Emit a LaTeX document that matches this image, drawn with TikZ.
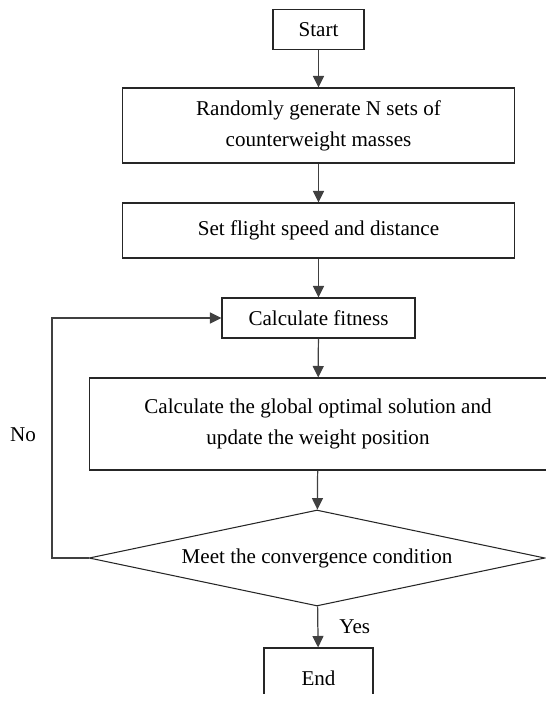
\documentclass[tikz,border=0pt]{standalone}
\usepackage{fontspec}
\setmainfont{Liberation Serif}
\usetikzlibrary{arrows.meta, shapes.geometric}

\tikzset{
  box/.style={draw=black!85, line width=0.6pt, inner sep=0pt, align=center, font=\fontsize{12}{17.5}\selectfont},
  flow/.style={draw=black!75, line width=0.7pt, -{Triangle[length=0.23cm, width=0.22cm]}}
}

\begin{document}
\begin{tikzpicture}[x=0.02cm, y=-0.02cm]

\useasboundingbox (0,0) rectangle (546,703);
\clip (0,0) rectangle (546,693);

% steps
\node[box, minimum width=1.82cm, minimum height=0.8cm] (start) at (318.5,29.5) {Start};
\node[box, minimum width=7.86cm, minimum height=1.5cm] (gen) at (318.5,125.5) {Randomly generate N sets of\\counterweight masses};
\node[box, minimum width=7.86cm, minimum height=1.1cm] (speed) at (318.5,230.5) {Set flight speed and distance};
\node[box, minimum width=3.86cm, minimum height=0.8cm] (fit) at (318.5,318) {Calculate fitness};
\node[box, minimum width=9.16cm, minimum height=1.84cm] (opt) at (318,424) {Calculate the global optimal solution and\\update the weight position};

% decision
\node[box, diamond, aspect=4.75, minimum width=9.12cm, minimum height=1.92cm] (conv) at (317,558) {Meet the convergence condition};

\node[box, minimum width=2.18cm, minimum height=1.2cm] (end) at (318.5,678) {End};

% main line
\draw[flow] (start) -- (gen);
\draw[flow] (gen) -- (speed);
\draw[flow] (speed) -- (fit);
\draw[flow] (fit) -- (opt);
\draw[flow] (opt) -- (conv);
\draw[flow] (conv) -- node[right=12pt, box, draw=none] {Yes} (end);

% loop back
\coordinate (back) at (52,558);
\draw[flow] (conv.west) -- (back) |- (fit.west);
\node[box, draw=none] (no) at (23,435) {No};

\end{tikzpicture}
\end{document}
